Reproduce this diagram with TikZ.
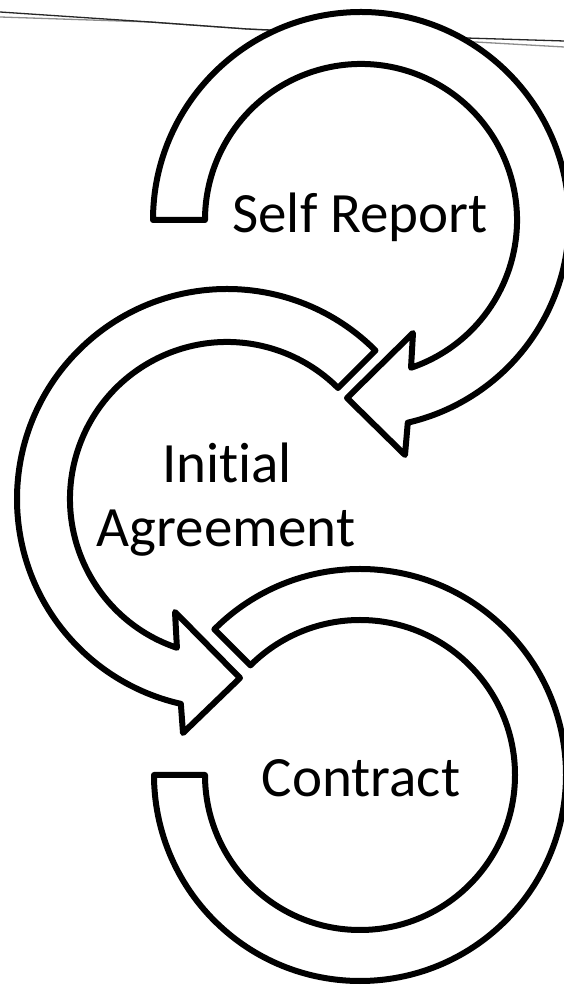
\documentclass[tikz,border=0pt]{standalone}
\usepackage{fontspec}
\setmainfont{Carlito}[Ligatures={NoCommon,NoContextual}]
\usetikzlibrary{calc}
\tikzset{
  band/.style={draw=black, fill=white, line width=6pt, line join=round},
  lbl/.style={anchor=base, font=\fontsize{57}{65}\selectfont, inner sep=0pt},
  edgedark/.style={draw=black!85, line width=1.3pt},
  edgegray/.style={draw=black!45, line width=1.3pt}
}
\begin{document}
\begin{tikzpicture}[x=1pt,y=1pt]
\useasboundingbox (0,0) rectangle (564,987);
\clip (0,0) rectangle (564,987);
\fill[white] (0,0) rectangle (564,987);
% page edge lines at top
\draw[edgegray] (0,970) -- (150,965) -- (247,958) -- (440,947) -- (564,940);
\draw[edgedark] (0,975) -- (150,965) -- (247,958) -- (433,950) -- (564,946);
% centres
\coordinate (c1) at (361,767);
\coordinate (c2) at (227,488);
\coordinate (c3) at (360,212);
% top circular arrow
\draw[band] ($(c1)+(180:208)$) arc[start angle=180,end angle=-77,radius=208pt]
  -- (405,532) -- (347,589) -- (413,654)
  -- ($(c1)+(-71.3:156)$) arc[start angle=-71.3,end angle=180,radius=156pt] -- cycle;
% middle circular arrow
\draw[band] ($(c2)+(45:210)$) arc[start angle=45,end angle=257.3,radius=210pt]
  -- (183,254) -- (240,309) -- (175,375)
  -- ($(c2)+(251.4:157)$) arc[start angle=251.4,end angle=45,radius=157pt] -- cycle;
% bottom circular band
\draw[band] ($(c3)+(135:206)$) arc[start angle=135,end angle=-180,radius=206pt]
  -- ($(c3)+(180:155)$) arc[start angle=180,end angle=495,radius=155pt] -- cycle;
% labels
\node[lbl] (self) at (360,754) {Self Report};
\node[lbl] (init) at (227,504) {Init\kern0pt ial};
\node[lbl] (agree) at (226,440) {Agreement};
\node[lbl] (contract) at (361,190) {Contract};
\end{tikzpicture}
\end{document}
